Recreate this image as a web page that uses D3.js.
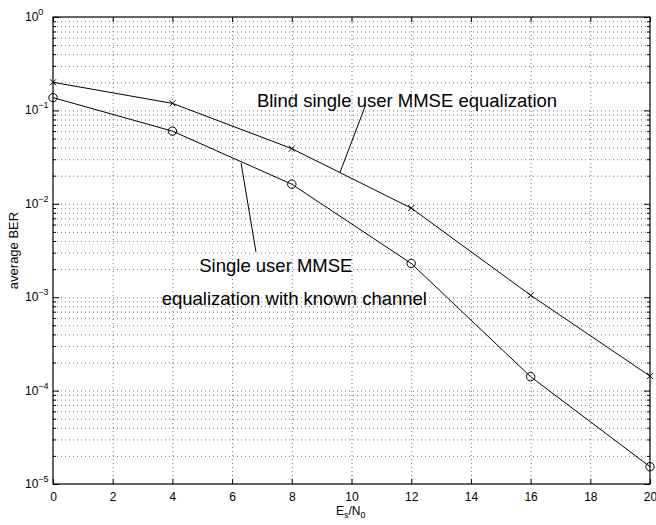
<!DOCTYPE html>
<html>
<head>
<meta charset="utf-8">
<script src="https://cdn.jsdelivr.net/npm/d3@7"></script>
<style>
  body { margin: 0; background: #fff; }
  svg text { font-family: "Liberation Sans", Arial, sans-serif; fill: #000; }
  .grid line { stroke: #555; stroke-dasharray: 1,3; stroke-width: 0.8; }
  .grid path { display: none; }
  .ticks path { display: none; }
  .ticks line { stroke: #000; }
</style>
</head>
<body>
<script>
// data
let snr = [0, 4, 8, 12, 16, 20];
let berBlind = [0.2, 0.119, 0.039, 0.009, 0.00105, 0.000143];
let berKnown = [0.137, 0.060, 0.0162, 0.0023, 0.000141, 0.0000153];

let xTicks = [0, 2, 4, 6, 8, 10, 12, 14, 16, 18, 20];
let yDecades = [0, -1, -2, -3, -4, -5];

// annotation texts, anchored in data units (Es/N0, BER)
let labels = [
    {text: "Blind single user MMSE equalization", x: 6.83, y: 0.1096},
    {text: "Single user MMSE", x: 4.90, y: 0.001875},
    {text: "equalization with known channel", x: 3.64, y: 0.000826}
];
let leaders = [
    {x1: 10.45, y1: 0.109, x2: 9.61, y2: 0.0215},
    {x1: 6.30, y1: 0.0273, x2: 6.80, y2: 0.00305}
];

// set the dimensions and margins of the graph
let margin = {top: 17, right: 6, bottom: 41, left: 53},
    width = 656 - margin.left - margin.right,
    height = 525 - margin.top - margin.bottom;

let x = d3.scaleLinear().domain([0, 20]).range([0, width]);
let y = d3.scaleLog().domain([1e-5, 1]).range([height, 0]);

// every minor + major value of the log axis
let yMinor = [];
let yMajor = yDecades.map(function(p) { return Math.pow(10, p); });
yDecades.slice(1).forEach(function(p) {
    for (let k = 2; k <= 9; k++) yMinor.push(k * Math.pow(10, p));
});

let svg = d3.select("body").append("svg")
    .attr("width", 656)
    .attr("height", 525);

let g = svg.append("g")
    .attr("transform", "translate(" + margin.left + "," + margin.top + ")");

// dotted grid
g.append("g")
    .attr("class", "grid")
    .attr("transform", "translate(0," + height + ")")
    .call(d3.axisBottom(x).tickValues(xTicks.slice(1, -1)).tickSize(-height).tickFormat(""));

g.append("g")
    .attr("class", "grid")
    .call(d3.axisLeft(y).tickValues(yMinor.concat(yMajor.slice(1, -1))).tickSize(-width).tickFormat(""));

// inside ticks on all four sides
g.append("g")
    .attr("class", "ticks")
    .attr("transform", "translate(0," + height + ")")
    .call(d3.axisBottom(x).tickValues(xTicks).tickSize(-5).tickPadding(8).tickFormat(d3.format("d")))
    .selectAll("text").style("font-size", "12px");

g.append("g")
    .attr("class", "ticks")
    .call(d3.axisTop(x).tickValues(xTicks).tickSize(-5).tickFormat(""));

g.append("g")
    .attr("class", "ticks")
    .call(d3.axisLeft(y).tickValues(yMajor).tickSize(-6).tickFormat(""));
g.append("g")
    .attr("class", "ticks")
    .call(d3.axisLeft(y).tickValues(yMinor).tickSize(-3).tickFormat(""));
g.append("g")
    .attr("class", "ticks")
    .attr("transform", "translate(" + width + ",0)")
    .call(d3.axisRight(y).tickValues(yMajor).tickSize(-6).tickFormat(""));
g.append("g")
    .attr("class", "ticks")
    .attr("transform", "translate(" + width + ",0)")
    .call(d3.axisRight(y).tickValues(yMinor).tickSize(-3).tickFormat(""));

// y tick labels 10^k
let yLab = g.selectAll(".ylab")
    .data(yDecades)
    .enter().append("text")
    .attr("class", "ylab")
    .attr("x", -28)
    .attr("y", function(d) { return y(Math.pow(10, d)) + 4; })
    .style("font-size", "12px");
yLab.append("tspan").text("10");
yLab.append("tspan")
    .attr("dy", -6)
    .style("font-size", "9px")
    .text(function(d) { return d === 0 ? "0" : "\u2212" + (-d); });

// box
g.append("rect")
    .attr("width", width)
    .attr("height", height)
    .attr("fill", "none")
    .attr("stroke", "#000")
    .attr("stroke-width", 1.2);

// curves
let line = d3.line()
    .x(function(d) { return x(d[0]); })
    .y(function(d) { return y(d[1]); });

let blind = snr.map(function(s, i) { return [s, berBlind[i]]; });
let known = snr.map(function(s, i) { return [s, berKnown[i]]; });

g.append("path")
    .datum(blind)
    .attr("fill", "none")
    .attr("stroke", "#000")
    .attr("stroke-width", 1)
    .attr("d", line);

g.append("path")
    .datum(known)
    .attr("fill", "none")
    .attr("stroke", "#000")
    .attr("stroke-width", 1)
    .attr("d", line);

// x markers
g.selectAll(".xm")
    .data(blind)
    .enter().append("path")
    .attr("class", "xm")
    .attr("transform", function(d) { return "translate(" + x(d[0]) + "," + y(d[1]) + ")"; })
    .attr("d", "M-3,-3L3,3M-3,3L3,-3")
    .attr("stroke", "#000")
    .attr("stroke-width", 1);

// o markers
g.selectAll(".om")
    .data(known)
    .enter().append("circle")
    .attr("class", "om")
    .attr("cx", function(d) { return x(d[0]); })
    .attr("cy", function(d) { return y(d[1]); })
    .attr("r", 4.2)
    .attr("fill", "none")
    .attr("stroke", "#000")
    .attr("stroke-width", 1);

// annotations
g.selectAll(".leader")
    .data(leaders)
    .enter().append("line")
    .attr("class", "leader")
    .attr("x1", function(d) { return x(d.x1); })
    .attr("y1", function(d) { return y(d.y1); })
    .attr("x2", function(d) { return x(d.x2); })
    .attr("y2", function(d) { return y(d.y2); })
    .attr("stroke", "#000")
    .attr("stroke-width", 1);

g.selectAll(".note")
    .data(labels)
    .enter().append("text")
    .attr("class", "note")
    .attr("x", function(d) { return x(d.x); })
    .attr("y", function(d) { return y(d.y); })
    .style("font-size", "18.5px")
    .text(function(d) { return d.text; });

// axis titles
let xt = svg.append("text")
    .attr("x", 336)
    .attr("y", 515)
    .style("font-size", "12px");
xt.append("tspan").text("E");
xt.append("tspan").attr("dy", 3).style("font-size", "9px").text("s");
xt.append("tspan").attr("dy", -3).text("/N");
xt.append("tspan").attr("dy", 3).style("font-size", "9px").text("0");

svg.append("text")
    .attr("transform", "translate(18," + (margin.top + height / 2) + ") rotate(-90)")
    .attr("text-anchor", "middle")
    .style("font-size", "13px")
    .text("average BER");
</script>
</body>
</html>
